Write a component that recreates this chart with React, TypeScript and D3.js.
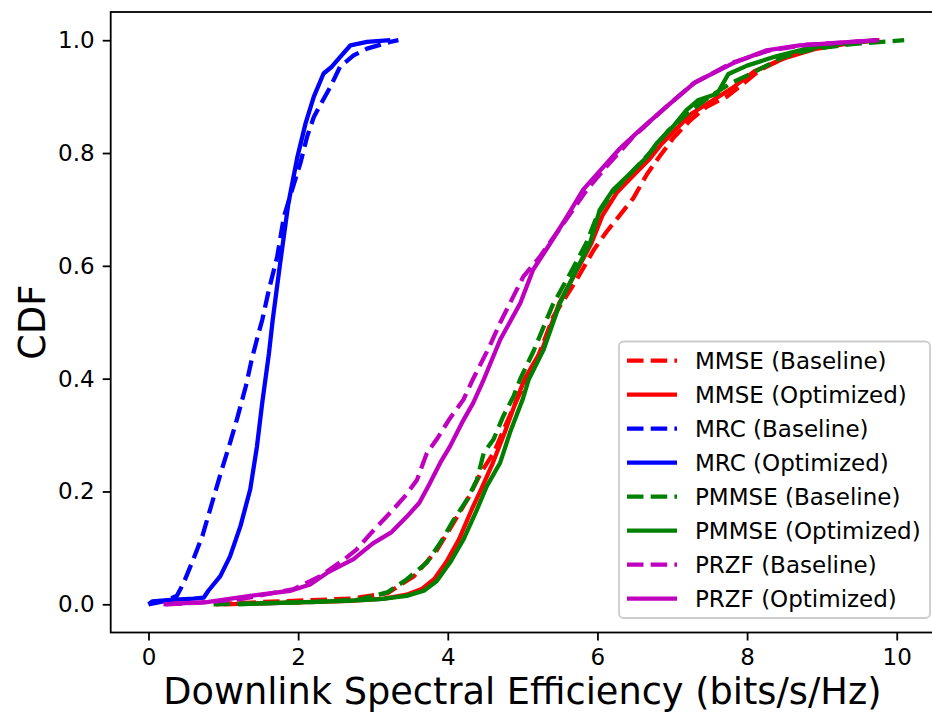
import { useRef, useEffect } from 'react';
import * as d3 from 'd3';

// [spectral efficiency, CDF]
const mmseBaseline = [
  [0.9, 0], [1.5, 0.004], [2.7, 0.01], [3.2, 0.02], [3.55, 0.05], [3.85, 0.095], [4.08, 0.145],
  [4.28, 0.19], [4.45, 0.235], [4.62, 0.27], [4.78, 0.32], [4.95, 0.37], [5.14, 0.416], [5.41, 0.51],
  [5.72, 0.575], [5.95, 0.628], [6.12, 0.66], [6.3, 0.69], [6.48, 0.72], [6.66, 0.762], [6.82, 0.792],
  [7.01, 0.826], [7.24, 0.858], [7.46, 0.882], [7.73, 0.9], [7.95, 0.923], [8.17, 0.947], [8.44, 0.965],
  [8.7, 0.982], [9.15, 0.994], [9.77, 1.0]
];
const mmseOptimized = [
  [1.0, 0], [1.9, 0.003], [2.7, 0.006], [3.15, 0.01], [3.45, 0.017], [3.65, 0.027], [3.82, 0.045],
  [3.98, 0.075], [4.15, 0.115], [4.32, 0.168], [4.45, 0.205], [4.6, 0.25], [4.76, 0.304], [4.92, 0.363],
  [5.03, 0.4], [5.27, 0.455], [5.49, 0.534], [5.73, 0.593], [5.92, 0.64], [6.07, 0.69], [6.26, 0.73],
  [6.48, 0.76], [6.7, 0.79], [6.85, 0.815], [7.07, 0.845], [7.26, 0.87], [7.5, 0.89], [7.8, 0.915],
  [8.1, 0.945], [8.5, 0.968], [8.9, 0.984], [9.3, 0.993], [9.75, 1.0]
];
const mrcBaseline = [
  [0.0, 0], [0.2, 0.005], [0.38, 0.015], [0.47, 0.038], [0.6, 0.08], [0.72, 0.121], [0.85, 0.18],
  [0.98, 0.239], [1.09, 0.286], [1.18, 0.327], [1.3, 0.386], [1.38, 0.434], [1.47, 0.48], [1.52, 0.504],
  [1.61, 0.558], [1.72, 0.616], [1.81, 0.687], [1.92, 0.735], [2.03, 0.782], [2.12, 0.829], [2.21, 0.864],
  [2.32, 0.891], [2.43, 0.917], [2.56, 0.953], [2.74, 0.973], [2.92, 0.985], [3.23, 0.997], [3.34, 1.0]
];
const mrcOptimized = [
  [0, 0], [0.05, 0.005], [0.3, 0.008], [0.6, 0.01], [0.74, 0.012], [0.8, 0.024], [0.96, 0.05],
  [1.09, 0.085], [1.23, 0.139], [1.36, 0.204], [1.45, 0.28], [1.52, 0.357], [1.61, 0.445], [1.66, 0.504],
  [1.76, 0.605], [1.87, 0.711], [1.99, 0.793], [2.1, 0.853], [2.21, 0.9], [2.34, 0.941], [2.45, 0.953],
  [2.56, 0.97], [2.7, 0.991], [2.92, 0.997], [3.23, 1.0]
];
const pmmseBaseline = [
  [0.87, 0], [1.5, 0.002], [2.2, 0.004], [2.8, 0.008], [3.19, 0.021], [3.45, 0.044], [3.72, 0.074],
  [3.9, 0.109], [4.08, 0.15], [4.26, 0.186], [4.39, 0.221], [4.48, 0.268], [4.61, 0.292], [4.74, 0.333],
  [4.88, 0.369], [4.97, 0.4], [5.15, 0.45], [5.4, 0.53], [5.65, 0.59], [5.85, 0.64], [6.0, 0.69],
  [6.2, 0.73], [6.45, 0.765], [6.7, 0.8], [6.95, 0.84], [7.2, 0.87], [7.5, 0.9], [7.8, 0.925],
  [8.04, 0.94], [8.48, 0.97], [8.9, 0.985], [9.4, 0.993], [10.1, 1.0]
];
const pmmseOptimized = [
  [1.2, 0], [1.85, 0.003], [2.65, 0.006], [3.1, 0.009], [3.45, 0.015], [3.68, 0.024], [3.85, 0.041],
  [4.03, 0.074], [4.21, 0.115], [4.39, 0.168], [4.52, 0.209], [4.7, 0.251], [4.83, 0.304], [5.0, 0.363],
  [5.08, 0.398], [5.28, 0.451], [5.5, 0.534], [5.72, 0.593], [5.9, 0.64], [6.03, 0.699], [6.21, 0.735],
  [6.44, 0.764], [6.66, 0.793], [6.79, 0.817], [7.01, 0.847], [7.19, 0.876], [7.35, 0.894], [7.6, 0.905],
  [7.75, 0.94], [8.0, 0.955], [8.4, 0.972], [8.8, 0.985], [9.2, 0.993], [9.75, 1.0]
];
const przfBaseline = [
  [0.23, 0], [0.7, 0.003], [1.23, 0.009], [1.94, 0.027], [2.3, 0.05], [2.6, 0.078], [2.78, 0.097],
  [2.98, 0.127], [3.25, 0.165], [3.45, 0.195], [3.59, 0.221], [3.72, 0.268], [3.85, 0.292], [4.03, 0.33],
  [4.21, 0.363], [4.34, 0.4], [4.55, 0.455], [4.7, 0.499], [5.01, 0.581], [5.23, 0.616], [5.55, 0.676],
  [5.86, 0.735], [6.12, 0.776], [6.48, 0.829], [6.92, 0.882], [7.28, 0.923], [7.8, 0.96], [8.3, 0.982],
  [8.8, 0.992], [9.3, 0.996], [9.76, 1.0]
];
const przfOptimized = [
  [0.2, 0], [0.5, 0.002], [0.78, 0.004], [1.36, 0.015], [1.9, 0.024], [2.16, 0.035], [2.39, 0.056],
  [2.74, 0.08], [3.0, 0.108], [3.25, 0.128], [3.45, 0.155], [3.62, 0.18], [3.75, 0.212], [3.9, 0.251],
  [4.03, 0.28], [4.19, 0.322], [4.34, 0.357], [4.47, 0.395], [4.7, 0.469], [4.97, 0.534], [5.14, 0.593],
  [5.37, 0.64], [5.59, 0.687], [5.81, 0.735], [6.03, 0.768], [6.3, 0.808], [6.57, 0.841], [6.92, 0.882],
  [7.3, 0.925], [7.81, 0.959], [8.26, 0.982], [8.7, 0.991], [9.15, 0.995], [9.73, 1.0]
];

const LABELS = [
  'MMSE (Baseline)', 'MMSE (Optimized)', 'MRC (Baseline)', 'MRC (Optimized)',
  'PMMSE (Baseline)', 'PMMSE (Optimized)', 'PRZF (Baseline)', 'PRZF (Optimized)'
];
const CURVES = [
  mmseBaseline, mmseOptimized, mrcBaseline, mrcOptimized,
  pmmseBaseline, pmmseOptimized, przfBaseline, przfOptimized
];
const X_TICKS = [0, 2, 4, 6, 8, 10];
const Y_TICKS = [0, 0.2, 0.4, 0.6, 0.8, 1.0];

const COLORS = ['#ff0000', '#ff0000', '#0000ff', '#0000ff', '#008000', '#008000', '#bf00bf', '#bf00bf'];
const FONT = '"DejaVu Sans", sans-serif';

function App() {
  const svgRef = useRef<SVGSVGElement>(null);

  useEffect(() => {
    const svg = d3.select(svgRef.current);
    svg.selectAll('*').remove();

    const W = 932, H = 720;
    const left = 110.7, right = 942, top = 12, bottom = 632.5;
    const lw = 4.3;
    const dash = '16.5,7.2';

    svg.attr('width', W).attr('height', H);

    const x = d3.scaleLinear().domain([-0.505, 10.605]).range([left, right]);
    const y = d3.scaleLinear().domain([-0.05, 1.05]).range([bottom, top]);

    svg.append('defs').append('clipPath').attr('id', 'plot-clip')
      .append('rect')
      .attr('x', left).attr('y', top)
      .attr('width', right - left).attr('height', bottom - top);

    // Curves
    const line = d3.line<number[]>()
      .x(d => x(d[0]))
      .y(d => y(d[1]));

    const curves = svg.append('g').attr('clip-path', 'url(#plot-clip)');
    CURVES.forEach((data, i) => {
      curves.append('path')
        .datum(data)
        .attr('fill', 'none')
        .attr('stroke', COLORS[i])
        .attr('stroke-width', lw)
        .attr('stroke-linejoin', 'round')
        .attr('stroke-dasharray', i % 2 === 0 ? dash : null)
        .attr('d', line);
    });

    // Axes
    const xAxis = svg.append('g')
      .attr('transform', `translate(0,${bottom})`)
      .call(d3.axisBottom(x).tickValues(X_TICKS).tickSize(8).tickPadding(8).tickFormat(d3.format('d')));
    const yAxis = svg.append('g')
      .attr('transform', `translate(${left},0)`)
      .call(d3.axisLeft(y).tickValues(Y_TICKS).tickSize(8).tickPadding(8).tickFormat(d3.format('.1f')));

    [xAxis, yAxis].forEach(ax => {
      ax.select('.domain').remove();
      ax.selectAll('line').attr('stroke', '#000').attr('stroke-width', 1.8);
      ax.selectAll('text')
        .attr('fill', '#000')
        .style('font-family', FONT)
        .style('font-size', '23px');
    });

    // Spines
    svg.append('rect')
      .attr('x', left).attr('y', top)
      .attr('width', right - left).attr('height', bottom - top)
      .attr('fill', 'none').attr('stroke', '#000').attr('stroke-width', 1.8);

    // Axis labels
    svg.append('text')
      .attr('x', (left + right) / 2 - 4).attr('y', 704)
      .attr('text-anchor', 'middle')
      .style('font-family', FONT).style('font-size', '36.7px')
      .text('Downlink Spectral Efficiency (bits/s/Hz)');

    svg.append('text')
      .attr('transform', `translate(45,${(top + bottom) / 2}) rotate(-90)`)
      .attr('text-anchor', 'middle')
      .style('font-family', FONT).style('font-size', '36.7px')
      .text('CDF');

    // Legend
    const legend = svg.append('g');
    legend.append('rect')
      .attr('x', 619).attr('y', 341.5)
      .attr('width', 311).attr('height', 276.5)
      .attr('rx', 4.5)
      .attr('fill', 'rgba(255,255,255,0.8)')
      .attr('stroke', '#cccccc').attr('stroke-width', 1.8);

    LABELS.forEach((label, i) => {
      const cy = 360.7 + i * 34.0;
      legend.append('line')
        .attr('x1', 627).attr('x2', 677)
        .attr('y1', cy).attr('y2', cy)
        .attr('stroke', COLORS[i])
        .attr('stroke-width', lw)
        .attr('stroke-dasharray', i % 2 === 0 ? dash : null);
      legend.append('text')
        .attr('x', 695).attr('y', cy)
        .attr('dy', '0.36em')
        .style('font-family', FONT).style('font-size', '23px')
        .text(label);
    });
  }, []);

  return (
    <div style={{ position: 'absolute', left: 0, top: 0, width: 932, height: 720, overflow: 'hidden', background: '#fff' }}>
      <svg ref={svgRef} style={{ display: 'block' }}></svg>
    </div>
  );
}

export default App;
